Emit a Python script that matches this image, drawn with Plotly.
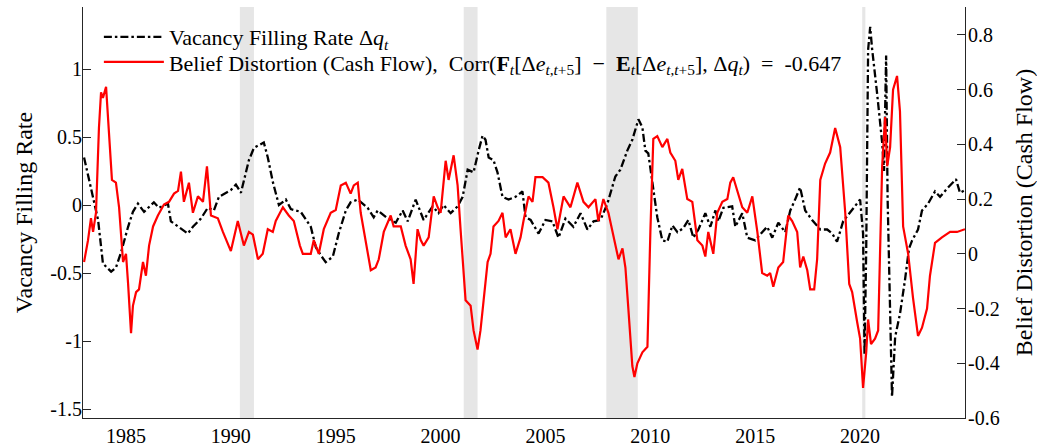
import plotly.graph_objects as go

# ---- Data ----
vac_year = [1983.0, 1983.67, 1983.90, 1984.29, 1984.52, 1984.76, 1985.10, 1985.33, 1985.57, 1985.86,
            1986.33, 1986.57, 1987.00, 1987.14, 1987.95, 1988.19, 1988.57, 1988.90, 1989.19, 1989.43,
            1990.00, 1990.24, 1990.48, 1990.86, 1991.10, 1991.57, 1991.76, 1992.00, 1992.29, 1992.62,
            1992.86, 1993.33, 1993.81, 1994.05, 1994.29, 1994.52, 1994.86, 1995.14, 1995.48, 1995.71,
            1996.05, 1996.52, 1996.81, 1997.00, 1997.48, 1997.86, 1998.19, 1998.43, 1998.81, 1999.19,
            1999.62, 1999.90, 2000.14, 2000.48, 2000.81, 2001.05, 2001.29, 2001.57, 2001.81, 2002.00,
            2002.14, 2002.29, 2002.52, 2002.71, 2002.95, 2003.24, 2003.57, 2003.90, 2004.05, 2004.29,
            2004.67, 2005.00, 2005.33, 2005.62, 2005.95, 2006.33, 2006.67, 2007.00, 2007.29, 2007.62,
            2007.95, 2008.33, 2008.57, 2008.90, 2009.14, 2009.43, 2009.62, 2009.76, 2009.90, 2010.14,
            2010.33, 2010.57, 2010.81, 2011.05, 2011.29, 2011.57, 2011.81, 2012.05, 2012.29, 2012.62,
            2012.86, 2013.10, 2013.24, 2013.48, 2013.90, 2014.05, 2014.38, 2014.62, 2015.00, 2015.33,
            2015.57, 2015.81, 2016.10, 2016.43, 2016.67, 2016.90, 2017.14, 2017.38, 2017.71, 2018.10,
            2018.43, 2018.67, 2018.90, 2019.19, 2019.43, 2019.76, 2020.00, 2020.14, 2020.21, 2020.29,
            2020.38, 2020.48, 2020.57, 2020.81, 2021.05, 2021.14, 2021.24, 2021.31, 2021.43, 2021.52,
            2021.67, 2021.90, 2022.14, 2022.33, 2022.48, 2022.76, 2022.95, 2023.24, 2023.57, 2023.81,
            2024.14, 2024.57, 2024.76, 2025.00]
vac_rate = [0.35, -0.11, -0.43, -0.49, -0.46, -0.35, -0.16, -0.05, 0.01, -0.05,
            0.02, -0.02, 0.01, -0.12, -0.21, -0.16, -0.10, -0.02, -0.04, 0.06,
            0.11, 0.15, 0.09, 0.33, 0.42, 0.46, 0.35, 0.17, 0.00, 0.04,
            -0.03, -0.05, -0.16, -0.31, -0.37, -0.42, -0.38, -0.21, -0.04, 0.02,
            0.04, -0.02, -0.09, -0.04, -0.10, -0.13, -0.04, -0.12, 0.04, -0.11,
            -0.01, -0.06, 0.00, -0.06, -0.01, 0.06, 0.26, 0.24, 0.40, 0.51,
            0.48, 0.35, 0.33, 0.24, 0.06, 0.04, 0.06, 0.10, -0.09, -0.11,
            -0.21, -0.11, -0.12, -0.24, -0.10, -0.16, -0.06, -0.18, -0.12, -0.11,
            0.01, 0.21, 0.26, 0.40, 0.48, 0.63, 0.57, 0.40, 0.38, 0.13,
            -0.09, -0.26, -0.27, -0.15, -0.20, -0.17, -0.11, -0.24, -0.18, -0.06,
            -0.16, -0.04, -0.12, -0.02, -0.01, -0.16, -0.06, -0.24, -0.26, -0.20,
            -0.16, -0.24, -0.13, -0.20, -0.04, 0.04, 0.13, -0.04, -0.11, -0.18,
            -0.18, -0.21, -0.27, -0.12, -0.07, -0.01, 0.04, -0.21, -1.10, -0.33,
            1.14, 1.31, 1.15, 0.82, 0.46, 0.25, 1.10, 0.05, -0.94, -1.41,
            -0.97, -0.80, -0.55, -0.32, -0.26, -0.18, -0.04, 0.01, 0.10, 0.06,
            0.12, 0.19, 0.09, 0.11]

bd_year = [1983.0, 1983.19, 1983.33, 1983.43, 1983.57, 1983.71, 1983.81, 1983.90, 1984.05, 1984.19,
           1984.33, 1984.52, 1984.67, 1984.86, 1985.00, 1985.10, 1985.24, 1985.33, 1985.48, 1985.62,
           1985.81, 1985.95, 1986.10, 1986.29, 1986.52, 1986.81, 1987.05, 1987.29, 1987.48, 1987.62,
           1987.76, 1988.00, 1988.19, 1988.43, 1988.67, 1988.86, 1989.05, 1989.38, 1989.62, 1990.00,
           1990.33, 1990.62, 1990.86, 1991.05, 1991.29, 1991.52, 1991.76, 1992.00, 1992.14, 1992.48,
           1992.76, 1993.00, 1993.29, 1993.43, 1993.81, 1993.95, 1994.19, 1994.43, 1994.76, 1995.00,
           1995.24, 1995.48, 1995.71, 1995.86, 1996.05, 1996.19, 1996.43, 1996.67, 1996.90, 1997.05,
           1997.29, 1997.62, 1997.76, 1998.10, 1998.33, 1998.57, 1998.71, 1998.90, 1999.05, 1999.19,
           1999.43, 1999.67, 1999.86, 2000.00, 2000.24, 2000.38, 2000.62, 2000.81, 2000.95, 2001.19,
           2001.43, 2001.57, 2001.76, 2001.90, 2002.05, 2002.24, 2002.38, 2002.52, 2002.76, 2002.95,
           2003.10, 2003.33, 2003.57, 2003.81, 2003.95, 2004.19, 2004.38, 2004.52, 2004.86, 2005.14,
           2005.38, 2005.57, 2005.86, 2006.19, 2006.52, 2006.81, 2007.05, 2007.38, 2007.52, 2007.76,
           2008.00, 2008.33, 2008.48, 2008.67, 2008.81, 2008.95, 2009.14, 2009.24, 2009.38, 2009.62,
           2009.86, 2010.00, 2010.14, 2010.33, 2010.57, 2010.81, 2010.95, 2011.19, 2011.33, 2011.52,
           2011.76, 2012.00, 2012.24, 2012.48, 2012.62, 2012.76, 2013.00, 2013.19, 2013.43, 2013.67,
           2013.81, 2013.95, 2014.14, 2014.38, 2014.62, 2014.86, 2015.10, 2015.33, 2015.57, 2015.71,
           2015.86, 2016.10, 2016.33, 2016.57, 2016.76, 2017.00, 2017.14, 2017.29, 2017.48, 2017.62,
           2017.81, 2017.95, 2018.10, 2018.33, 2018.57, 2018.81, 2019.05, 2019.29, 2019.48, 2019.62,
           2019.86, 2020.00, 2020.14, 2020.29, 2020.38, 2020.52, 2020.71, 2020.86, 2021.05, 2021.19,
           2021.29, 2021.43, 2021.57, 2021.76, 2021.90, 2022.05, 2022.29, 2022.52, 2022.76, 2022.95,
           2023.19, 2023.33, 2023.57, 2023.90, 2024.29, 2024.62, 2025.00]
bd_dist = [-0.03, 0.05, 0.13, 0.08, 0.15, 0.46, 0.59, 0.57, 0.61, 0.44,
           0.27, 0.26, 0.17, -0.03, 0.00, -0.11, -0.29, -0.19, -0.14, -0.13,
           -0.03, -0.08, 0.03, 0.10, 0.14, 0.18, 0.19, 0.22, 0.23, 0.30,
           0.19, 0.26, 0.15, 0.21, 0.19, 0.32, 0.14, 0.13, 0.08, 0.01,
           0.12, 0.03, 0.08, 0.07, -0.02, 0.00, 0.09, 0.08, 0.12, 0.17,
           0.14, 0.12, 0.03, 0.00, 0.00, 0.05, 0.00, 0.09, 0.15, 0.16,
           0.25, 0.26, 0.22, 0.25, 0.26, 0.15, 0.04, -0.06, -0.05, -0.02,
           0.08, 0.14, 0.10, 0.10, 0.03, -0.02, -0.11, 0.09, 0.05, 0.03,
           0.06, 0.21, 0.17, 0.15, 0.34, 0.27, 0.36, 0.25, 0.09, -0.17,
           -0.19, -0.28, -0.35, -0.28, -0.17, -0.03, 0.00, 0.10, 0.12, 0.15,
           0.06, 0.09, 0.00, 0.06, 0.12, 0.21, 0.19, 0.28, 0.28, 0.26,
           0.17, 0.09, 0.21, 0.17, 0.26, 0.19, 0.17, 0.20, 0.12, 0.20,
           0.15, 0.03, -0.02, 0.02, -0.05, -0.20, -0.41, -0.45, -0.40, -0.36,
           -0.34, 0.08, 0.42, 0.43, 0.39, 0.42, 0.37, 0.34, 0.27, 0.31,
           0.20, 0.19, 0.05, 0.03, -0.01, 0.08, 0.00, 0.15, 0.19, 0.20,
           0.26, 0.28, 0.23, 0.17, 0.15, 0.21, 0.08, -0.07, -0.08, -0.07,
           -0.12, -0.05, -0.03, 0.14, 0.12, 0.08, -0.05, -0.01, -0.06, -0.13,
           -0.13, -0.02, 0.27, 0.33, 0.37, 0.46, 0.39, 0.15, -0.11, -0.14,
           -0.25, -0.31, -0.49, -0.36, -0.24, -0.33, -0.31, -0.28, 0.32, 0.50,
           0.32, 0.39, 0.60, 0.65, 0.52, 0.10, 0.00, -0.16, -0.30, -0.27,
           -0.20, -0.08, 0.04, 0.06, 0.08, 0.08, 0.09]

rec_start = [1990.43, 2001.10, 2007.90, 2020.10]
rec_end = [1991.10, 2001.76, 2009.40, 2020.25]

x_ticks = [1985, 1990, 1995, 2000, 2005, 2010, 2015, 2020]
left_ticks = [-1.5, -1, -0.5, 0, 0.5, 1]
left_labels = ["-1.5", "-1", "-0.5", "0", "0.5", "1"]
right_ticks = [-0.6, -0.4, -0.2, 0, 0.2, 0.4, 0.6, 0.8]
right_labels = ["-0.6", "-0.4", "-0.2", "0", "0.2", "0.4", "0.6", "0.8"]

name_vac = "Vacancy Filling Rate Δ<i>q</i><sub><i>t</i></sub>"
name_bd = ("Belief Distortion (Cash Flow),  Corr(<b>F</b><sub><i>t</i></sub>[Δ<i>e</i><sub><i>t</i>,<i>t</i>+5</sub>]"
           "  −  <b>E</b><sub><i>t</i></sub>[Δ<i>e</i><sub><i>t</i>,<i>t</i>+5</sub>], Δ<i>q</i><sub><i>t</i></sub>)  =  -0.647")

FONT = "Liberation Serif"
AX = "#262626"

fig = go.Figure()
fig.add_trace(go.Scatter(x=bd_year, y=bd_dist, mode="lines", name=name_bd, yaxis="y2",
                         line=dict(color="#ff0000", width=2.2), legend="legend2"))
fig.add_trace(go.Scatter(x=vac_year, y=vac_rate, mode="lines", name=name_vac, yaxis="y",
                         line=dict(color="#000000", width=2.3, dash="8px,3px,2.5px,3px"), legend="legend"))

for s, e in zip(rec_start, rec_end):
    fig.add_shape(type="rect", xref="x", yref="paper", x0=s, x1=e, y0=0, y1=1,
                  fillcolor="#e6e6e6", line=dict(width=0), layer="below")

leg_common = dict(xanchor="left", yanchor="top", bgcolor="rgba(0,0,0,0)",
                  font=dict(family=FONT, size=22), itemwidth=60)

fig.update_layout(
    width=1037, height=447,
    margin=dict(l=83, r=72, t=7, b=29, autoexpand=False),
    paper_bgcolor="white", plot_bgcolor="white",
    font=dict(family=FONT, size=20, color="black"),
    showlegend=True,
    legend=dict(x=0.018, y=0.978, **leg_common),
    legend2=dict(x=0.018, y=0.917, **leg_common),
    xaxis=dict(range=[1982.95, 2025.0], tickvals=x_ticks, showgrid=False, zeroline=False,
               showline=True, linecolor=AX, linewidth=1, ticks="", ticklabelstandoff=0,
               tickfont=dict(size=20), automargin=False),
    yaxis=dict(range=[-1.566, 1.456], tickvals=left_ticks, ticktext=left_labels, showgrid=False,
               zeroline=False, showline=True, linecolor=AX, linewidth=1, ticks="inside",
               ticklen=8, tickcolor=AX, tickfont=dict(size=20), automargin=False,
               ticklabelstandoff=-4,
               title=dict(text="Vacancy Filling Rate", font=dict(size=24), standoff=10)),
    yaxis2=dict(range=[-0.6, 0.902], tickvals=right_ticks, ticktext=right_labels, overlaying="y",
                side="right", showgrid=False, zeroline=False, showline=True, linecolor=AX,
                linewidth=1, ticks="inside", ticklen=8, tickcolor=AX, tickfont=dict(size=20),
                automargin=False, ticklabelstandoff=-2,
                title=dict(text="Belief Distortion (Cash Flow)", font=dict(size=24), standoff=16)),
)

fig.write_html("out.html", config={"displayModeBar": False},
               post_script="document.body.style.margin='0px'; document.body.style.overflow='hidden';")
